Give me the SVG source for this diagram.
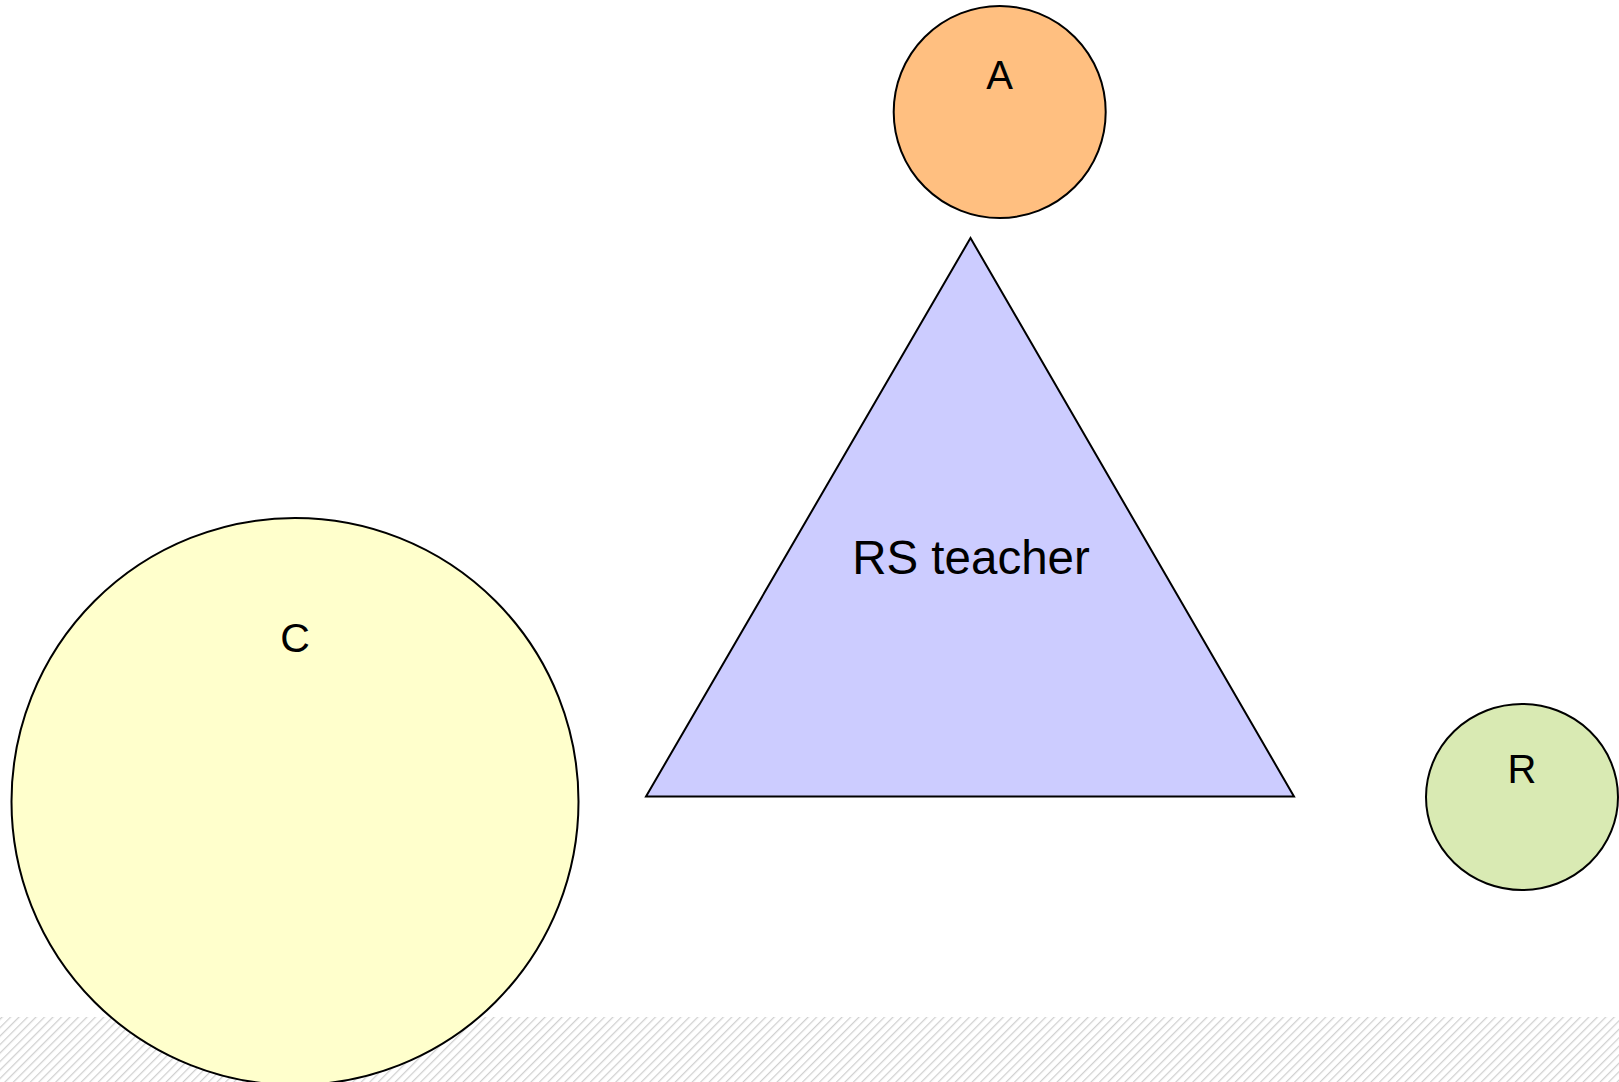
<svg xmlns="http://www.w3.org/2000/svg" width="1619" height="1082" viewBox="0 0 1619 1082">
  <style>
    .shape { stroke: #000; stroke-width: 2; }
    .lbl { font-family: "Liberation Sans", Arial, sans-serif; fill: #000; text-anchor: middle; }
  </style>
  <defs>
    <pattern id="hatch" width="6" height="6" patternUnits="userSpaceOnUse" patternTransform="rotate(45)">
      <rect width="6" height="6" fill="#fff"/>
      <line x1="0" y1="0" x2="0" y2="6" stroke="#d0d0d0" stroke-width="2.5"/>
    </pattern>
  </defs>
  <rect width="1619" height="1082" fill="#fff"/>
  <rect x="0" y="1017" width="1619" height="65" fill="url(#hatch)"/>
  <g id="connectors"></g>
  <g id="node-C">
    <circle class="shape" cx="295" cy="801.5" r="283.5" fill="#ffffcc"/>
    <text class="lbl" x="295" y="652" font-size="41">C</text>
  </g>
  <g id="node-RS">
    <polygon class="shape" points="970.5,238 646,796.5 1294,796.5" fill="#ccccff"/>
    <text class="lbl" x="971" y="574" font-size="47.5">RS teacher</text>
  </g>
  <g id="node-A">
    <circle class="shape" cx="999.7" cy="112" r="106" fill="#ffbf80"/>
    <text class="lbl" x="999.7" y="89" font-size="40">A</text>
  </g>
  <g id="node-R">
    <ellipse class="shape" cx="1522" cy="797" rx="96" ry="93" fill="#d9eab3"/>
    <text class="lbl" x="1522" y="783" font-size="40">R</text>
  </g>
</svg>
